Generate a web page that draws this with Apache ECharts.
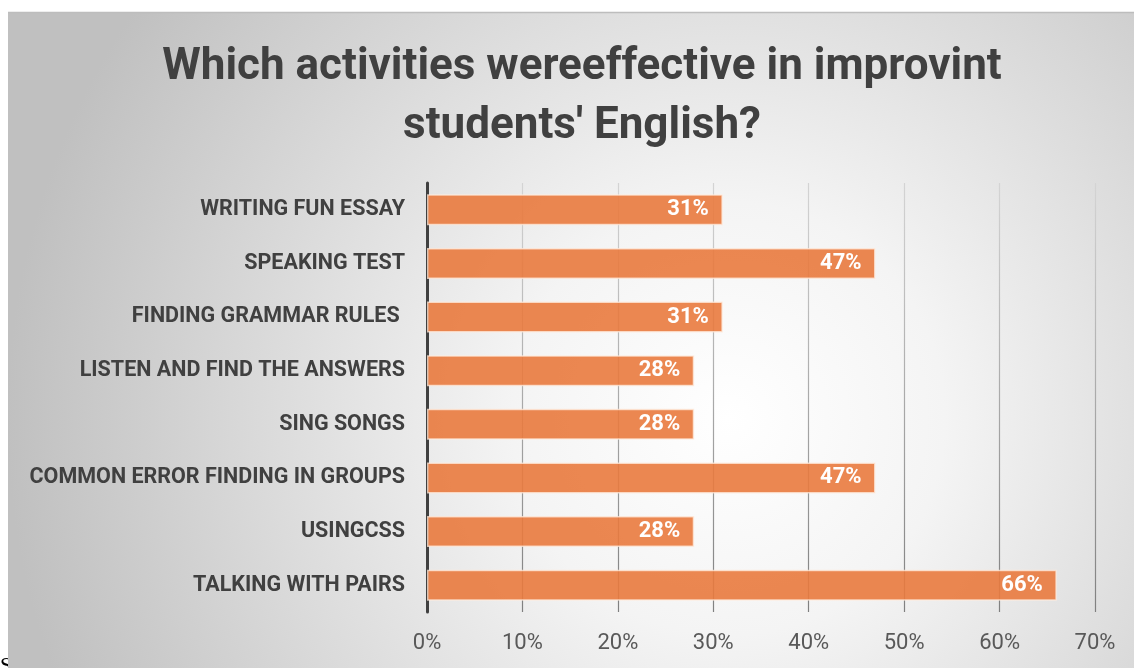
<!DOCTYPE html>
<html>
<head>
<meta charset="utf-8">
<style>
  html, body { margin: 0; padding: 0; background: #ffffff; }
  #chart { width: 1134px; height: 668px; }
</style>
<script src="https://cdn.jsdelivr.net/npm/echarts@6/dist/echarts.min.js"></script>
</head>
<body>
<div id="chart"></div>
<script>
// Survey answers: share of respondents per activity (percent)
const activities = [
  'WRITING FUN ESSAY',
  'SPEAKING TEST',
  'FINDING GRAMMAR RULES ',
  'LISTEN AND FIND THE ANSWERS',
  'SING SONGS',
  'COMMON ERROR FINDING IN GROUPS',
  'USINGCSS',
  'TALKING WITH PAIRS'
];
const shares = [31, 47, 31, 28, 28, 47, 28, 66];
const titleText = "Which activities wereeffective in improvint\nstudents' English?";

const W = 1134, H = 668;
const box = { x: 8, y: 12, w: W - 8, h: H - 12 };
const plot = { left: 427, right: 39, top: 183, bottom: 56 };

const chart = echarts.init(document.getElementById('chart'), null, { renderer: 'canvas' });

chart.setOption({
  animation: false,
  backgroundColor: '#ffffff',
  graphic: [
    {
      type: 'text', z: -20, left: 0, top: 655,
      style: { text: 'S', font: '22px "Liberation Serif"', fill: '#000000' }
    },
    {
      type: 'rect', z: -10,
      shape: { x: box.x, y: box.y, width: box.w, height: box.h },
      style: {
        fill: {
          type: 'radial', x: 0.64, y: 0.62, r: 1.1,
          colorStops: [
            { offset: 0, color: '#ffffff' },
            { offset: 0.3, color: '#f4f4f4' },
            { offset: 1, color: '#c0c0c0' }
          ]
        }
      }
    },
    {
      type: 'line', z: -9,
      shape: { x1: box.x, y1: box.y + 0.5, x2: W, y2: box.y + 0.5 },
      style: { stroke: '#bdbdbd', lineWidth: 1.5 }
    }
  ],
  title: {
    text: titleText,
    left: 577,
    textAlign: 'center',
    top: 33,
    textStyle: {
      fontFamily: 'Roboto',
      fontWeight: 'bold',
      fontSize: 44,
      lineHeight: 59,
      color: '#404040'
    }
  },
  grid: {
    left: plot.left, right: plot.right, top: plot.top, bottom: plot.bottom,
    containLabel: false
  },
  xAxis: {
    type: 'value',
    min: 0, max: 70, interval: 10,
    axisLine: { show: false },
    axisTick: { show: false },
    axisLabel: {
      formatter: '{value}%',
      margin: 20,
      fontFamily: 'Roboto',
      fontSize: 22,
      color: '#595959'
    },
    splitLine: {
      show: true,
      lineStyle: {
        width: 1.2,
        color: {
          type: 'linear', global: true,
          x: 0, y: plot.top, x2: 0, y2: H - plot.bottom,
          colorStops: [
            { offset: 0, color: '#d4d4d4' },
            { offset: 1, color: '#808080' }
          ]
        }
      }
    }
  },
  yAxis: {
    type: 'category',
    data: activities,
    inverse: true,
    axisLine: { show: true, lineStyle: { color: '#404040', width: 3 } },
    axisTick: { show: false },
    axisLabel: {
      margin: 22,
      fontFamily: 'Roboto',
      fontWeight: 'bold',
      fontSize: 21.5,
      color: '#404040'
    },
    splitLine: { show: false }
  },
  series: [{
    type: 'bar',
    data: shares,
    barCategoryGap: '42%',
    itemStyle: {
      color: 'rgba(233,122,62,0.9)',
      borderColor: 'rgba(255,235,220,0.75)',
      borderWidth: 1.5
    },
    label: {
      show: true,
      position: 'insideRight',
      distance: 14,
      formatter: '{c}%',
      color: '#ffffff',
      fontFamily: 'Roboto',
      fontWeight: 'bold',
      fontSize: 22
    }
  }]
});
</script>
</body>
</html>
